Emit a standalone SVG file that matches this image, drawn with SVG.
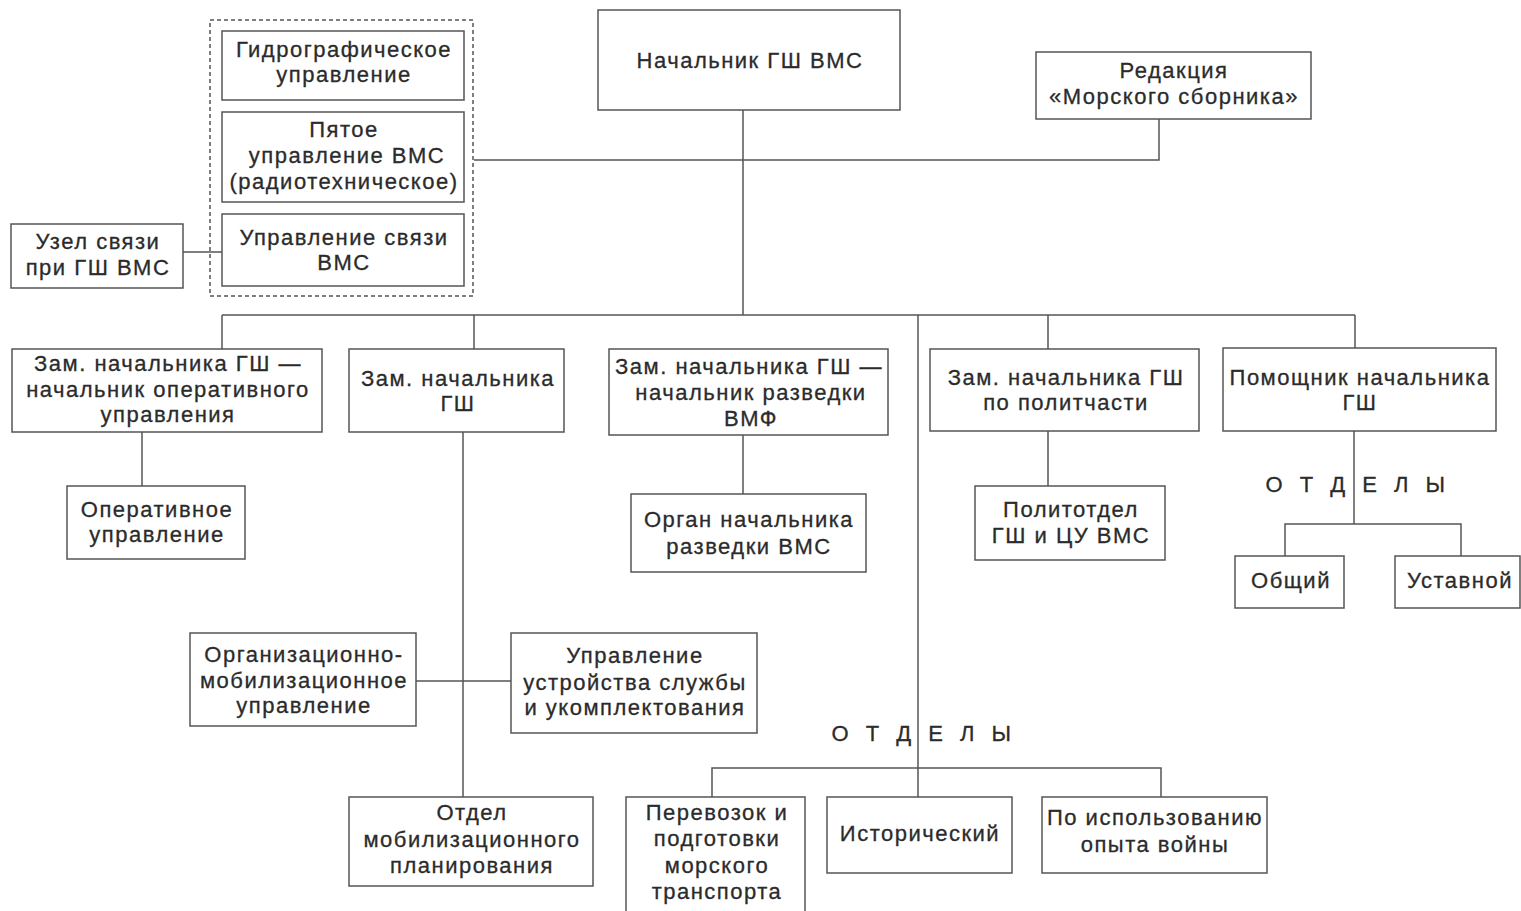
<svg xmlns="http://www.w3.org/2000/svg" width="1521" height="911" viewBox="0 0 1521 911">
<style>
.b{fill:#fff;stroke:#555;stroke-width:1.5}
.c{fill:none;stroke:#555;stroke-width:1.5}
.d{fill:none;stroke:#555;stroke-width:1.5;stroke-dasharray:4 3}
text{font-family:"Liberation Sans",Arial,sans-serif;font-size:22px;fill:#2b2b2b;stroke:#2b2b2b;stroke-width:0.3;text-anchor:middle;letter-spacing:1.5px}
.sp{letter-spacing:5.5px}
</style>
<rect width="1521" height="911" fill="#fff"/>
<g id="connectors">
<path class="c" d="M743 110V315M474 160H1159V119M183 252H222M222 315H1355M222 315V349M474 315V349M918 315V797M1048 315V349M1355 315V348"/>
<path class="c" d="M142 432V486M743 435V494M1048 431V486M1354 431V524M1285 556V524H1461V556"/>
<path class="c" d="M463 432V797M416 681H511"/>
<path class="c" d="M712 797V768H1161V797"/>
</g>
<g id="group-dashed"><rect class="d" x="210" y="20" width="263" height="276"/></g>
<g id="n-chief"><rect class="b" x="598" y="10" width="302" height="100"/><text x="750" y="68">Начальник ГШ ВМС</text></g>
<g id="n-redaction"><rect class="b" x="1036" y="52" width="275" height="67"/><text x="1174" y="78">Редакция</text><text x="1174" y="104">«Морского сборника»</text></g>
<g id="n-hydro"><rect class="b" x="222" y="31" width="242" height="69"/><text x="344" y="57">Гидрографическое</text><text x="344" y="82">управление</text></g>
<g id="n-fifth"><rect class="b" x="222" y="112" width="242" height="90"/><text x="344" y="137">Пятое</text><text x="347" y="163">управление ВМС</text><text x="344" y="189">(радиотехническое)</text></g>
<g id="n-comm"><rect class="b" x="222" y="214" width="242" height="72"/><text x="344" y="245">Управление связи</text><text x="344" y="270">ВМС</text></g>
<g id="n-node"><rect class="b" x="11" y="224" width="172" height="64"/><text x="98" y="249">Узел связи</text><text x="98" y="275">при ГШ ВМС</text></g>
<g id="n-deputy-ops"><rect class="b" x="12" y="349" width="310" height="83"/><text x="168" y="371">Зам. начальника ГШ —</text><text x="168" y="397">начальник оперативного</text><text x="168" y="422">управления</text></g>
<g id="n-deputy"><rect class="b" x="349" y="349" width="215" height="83"/><text x="458" y="386">Зам. начальника</text><text x="458" y="411">ГШ</text></g>
<g id="n-deputy-intel"><rect class="b" x="609" y="349" width="279" height="86"/><text x="749" y="374">Зам. начальника ГШ —</text><text x="751" y="400">начальник разведки</text><text x="751" y="426">ВМФ</text></g>
<g id="n-deputy-pol"><rect class="b" x="930" y="349" width="269" height="82"/><text x="1066" y="385">Зам. начальника ГШ</text><text x="1066" y="410">по политчасти</text></g>
<g id="n-assistant"><rect class="b" x="1223" y="348" width="273" height="83"/><text x="1360" y="385">Помощник начальника</text><text x="1360" y="410">ГШ</text></g>
<g id="n-ops"><rect class="b" x="67" y="486" width="178" height="73"/><text x="157" y="517">Оперативное</text><text x="157" y="542">управление</text></g>
<g id="n-intel"><rect class="b" x="631" y="494" width="235" height="78"/><text x="749" y="527">Орган начальника</text><text x="749" y="554">разведки ВМС</text></g>
<g id="n-politotdel"><rect class="b" x="975" y="486" width="190" height="74"/><text x="1071" y="517">Политотдел</text><text x="1071" y="543">ГШ и ЦУ ВМС</text></g>
<g id="label-otdely-1"><text class="sp" x="1358" y="492">О Т Д Е Л Ы</text></g>
<g id="n-general"><rect class="b" x="1235" y="556" width="109" height="52"/><text x="1291" y="588">Общий</text></g>
<g id="n-charter"><rect class="b" x="1395" y="556" width="125" height="52"/><text x="1460" y="588">Уставной</text></g>
<g id="n-orgmob"><rect class="b" x="190" y="633" width="226" height="93"/><text x="304" y="662">Организационно-</text><text x="304" y="688">мобилизационное</text><text x="304" y="713">управление</text></g>
<g id="n-service"><rect class="b" x="511" y="633" width="246" height="100"/><text x="635" y="663">Управление</text><text x="635" y="690">устройства службы</text><text x="635" y="715">и укомплектования</text></g>
<g id="n-mobplan"><rect class="b" x="349" y="797" width="244" height="89"/><text x="472" y="820">Отдел</text><text x="472" y="847">мобилизационного</text><text x="472" y="873">планирования</text></g>
<g id="label-otdely-2"><text class="sp" x="924" y="741">О Т Д Е Л Ы</text></g>
<g id="n-transport"><rect class="b" x="626" y="797" width="179" height="116"/><text x="717" y="820">Перевозок и</text><text x="717" y="846">подготовки</text><text x="717" y="873">морского</text><text x="717" y="899">транспорта</text></g>
<g id="n-history"><rect class="b" x="827" y="797" width="185" height="76"/><text x="920" y="841">Исторический</text></g>
<g id="n-experience"><rect class="b" x="1042" y="797" width="225" height="76"/><text x="1155" y="825">По использованию</text><text x="1155" y="852">опыта войны</text></g>
</svg>
